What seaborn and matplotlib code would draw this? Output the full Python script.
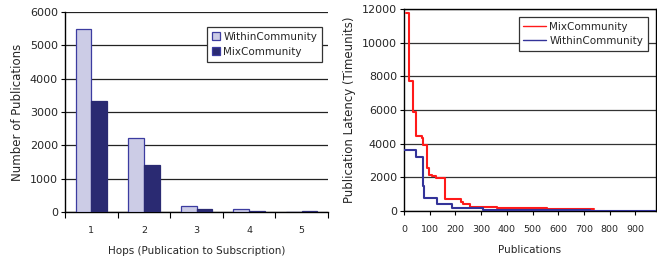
import numpy as np
import pandas as pd
import matplotlib
matplotlib.use("Agg")
import matplotlib.pyplot as plt
import seaborn as sns

# ---- data: left panel (hop counts) ----
hops = ["1", "2", "3", "4", "5"]
within_counts = [5500, 2220, 190, 100, 5]
mix_counts = [3320, 1400, 80, 20, 20]

# ---- data: right panel (latency step curves) ----
mix_x = [8, 19, 34, 45, 69, 75, 91, 99, 108, 125, 160, 221, 231, 257, 361, 413, 556, 738]
mix_y = [11750, 7700, 5900, 4450, 4350, 3950, 2550, 2150, 2050, 1950, 700, 550, 400, 250, 200, 150, 100, 100]
within_x = [0, 47, 73, 79, 127, 186, 225, 309, 439, 595, 725, 990]
within_y = [3600, 3200, 1500, 800, 420, 200, 150, 80, 50, 40, 0, 0]

sns.set_theme(style="white")
plt.rcParams['font.family'] = ['DejaVu Sans']

fig = plt.figure(figsize=(6.57, 2.6), dpi=100)
ax1 = fig.add_axes([65/657, 1-212/260, 263/657, 200/260])
ax2 = fig.add_axes([404/657, 1-211/260, 252/657, 202/260])

# ---- left: grouped bars ----
df_bar = pd.DataFrame({
    "hop": hops * 2,
    "count": within_counts + mix_counts,
    "series": ["WithinCommunity"] * len(hops) + ["MixCommunity"] * len(hops),
})
light = "#CCCCE6"
dark = "#2A2A72"
sns.barplot(data=df_bar, x="hop", y="count", hue="series",
            hue_order=["WithinCommunity", "MixCommunity"],
            palette=[light, dark], width=0.6, ax=ax1,
            edgecolor="#3C3CA0", linewidth=0.9, saturation=1, zorder=3)
for p in ax1.patches:
    if p.get_facecolor()[0] < 0.5:
        p.set_edgecolor(dark)
ax1.set_xlim(-0.5, 4.5)
ax1.set_ylim(0, 6000)
ax1.set_yticks(range(0, 6001, 1000))
ax1.yaxis.grid(True, color="#222222", linewidth=0.9, zorder=0)
ax1.set_axisbelow(True)
for s in ["top", "right"]:
    ax1.spines[s].set_visible(False)
for s in ["left", "bottom"]:
    ax1.spines[s].set_color("black")
    ax1.spines[s].set_linewidth(1.0)
ax1.set_xticks(np.arange(-0.5, 5.0, 1.0), minor=True)
ax1.tick_params(axis="x", which="minor", length=4, width=0.8, color="black", direction="out", bottom=True)
ax1.tick_params(axis="x", which="major", length=0, labelsize=6.8, pad=10)
ax1.tick_params(axis="y", which="major", length=3, width=0.8, color="black", direction="out", left=True, labelsize=8, pad=2)
ax1.set_xlabel("Hops (Publication to Subscription)", fontsize=7.5, labelpad=8)
ax1.set_ylabel("Number of Publications", fontsize=8.5, labelpad=4)
leg1 = ax1.legend(loc="upper right", bbox_to_anchor=(0.977, 0.925), fontsize=7.5,
                  frameon=True, fancybox=False, framealpha=1, edgecolor="#333333",
                  handlelength=0.8, handleheight=0.8, handletextpad=0.3,
                  borderpad=0.45, labelspacing=0.5, borderaxespad=0)
leg1.get_frame().set_linewidth(0.9)
for h in leg1.legend_handles:
    h.set_edgecolor("#3C3CA0")

# ---- right: step lines ----
df_lat = pd.DataFrame({
    "pubs": mix_x + within_x,
    "latency": mix_y + within_y,
    "series": ["MixCommunity"] * len(mix_x) + ["WithinCommunity"] * len(within_x),
})
sns.lineplot(data=df_lat, x="pubs", y="latency", hue="series",
             hue_order=["MixCommunity", "WithinCommunity"],
             palette={"MixCommunity": "#FF1A1A", "WithinCommunity": "#333399"},
             drawstyle="steps-post", linewidth=1.5, estimator=None, sort=False,
             ax=ax2, zorder=3)
ax2.set_xlim(0, 980)
ax2.set_ylim(0, 12000)
ax2.set_yticks(range(0, 12001, 2000))
ax2.set_xticks(range(0, 901, 100))
ax2.yaxis.grid(True, color="#333333", linewidth=0.9, zorder=0)
ax2.set_axisbelow(True)
for s in ax2.spines.values():
    s.set_color("black")
    s.set_linewidth(1.0)
ax2.tick_params(axis="x", length=3, width=0.8, color="black", direction="out", bottom=True, labelsize=6.8, pad=7)
ax2.tick_params(axis="y", length=3, width=0.8, color="black", direction="out", left=True, labelsize=8, pad=2)
ax2.set_xlabel("Publications", fontsize=7.5, labelpad=8)
ax2.set_ylabel("Publication Latency (Timeunits)", fontsize=8.5, labelpad=4)
leg2 = ax2.legend(loc="upper right", bbox_to_anchor=(0.968, 0.96), fontsize=7.5,
                  frameon=True, fancybox=False, framealpha=1, edgecolor="#333333",
                  handlelength=2.2, handletextpad=0.3,
                  borderpad=0.45, labelspacing=0.4, borderaxespad=0)
leg2.get_frame().set_linewidth(0.9)
for line in leg2.get_lines():
    line.set_linewidth(1.0)

fig.savefig("out.png", dpi=100)
